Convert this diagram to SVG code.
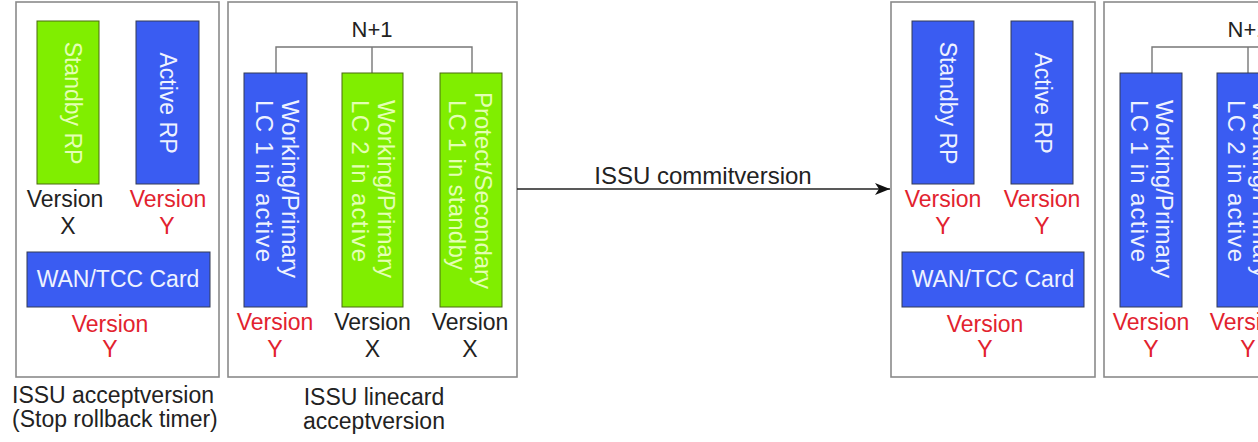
<svg xmlns="http://www.w3.org/2000/svg" width="1258" height="442" viewBox="0 0 1258 442">
<defs>
<style>
text{font-family:"Liberation Sans",Arial,sans-serif;}
.frame{fill:#fff;stroke:#8a8a8a;stroke-width:1.6;}
.blue{fill:#3a5cf2;stroke:#333a55;stroke-width:1;}
.green{fill:#80ee00;stroke:#4a6a10;stroke-width:1;}
.tb{fill:#eef2ff;font-size:23px;}
.tg{fill:#e4ffb4;font-size:23px;}
.lc{font-size:24px;}
.vr{fill:#e2222e;font-size:23px;text-anchor:middle;}
.vk{fill:#222;font-size:23px;text-anchor:middle;}
.np{fill:#222;font-size:22px;text-anchor:middle;}
.cap{fill:#222;font-size:23px;}
.brk{fill:none;stroke:#777;stroke-width:1.4;}
.conn{fill:none;stroke:#222;stroke-width:1.3;}
</style>
<marker id="ah" markerWidth="16" markerHeight="12" refX="15" refY="6" orient="auto" markerUnits="userSpaceOnUse">
<path d="M0,0 L15,6 L0,12 L4,6 Z" fill="#111"/>
</marker>
</defs>
<rect width="1258" height="442" fill="#fff"/>

<g id="stage1">
<rect class="frame" x="16" y="2" width="203" height="375"/>
<g id="s1-standby">
<rect class="green" x="37" y="21" width="62" height="163"/>
<text class="tg" text-anchor="middle" transform="translate(65,103) rotate(90)">Standby RP</text>
<text class="vk" x="65" y="207">Version</text>
<text class="vk" x="68" y="234">X</text>
</g>
<g id="s1-active">
<rect class="blue" x="136" y="21" width="63" height="163"/>
<text class="tb" text-anchor="middle" transform="translate(160,103) rotate(90)">Active RP</text>
<text class="vr" x="168" y="207">Version</text>
<text class="vr" x="167" y="234">Y</text>
</g>
<g id="s1-wan">
<rect class="blue" x="27" y="252" width="183" height="55"/>
<text class="tb" x="118" y="287" text-anchor="middle">WAN/TCC Card</text>
<text class="vr" x="110" y="332">Version</text>
<text class="vr" x="110" y="357">Y</text>
</g>
<text class="cap" x="12" y="403">ISSU acceptversion</text>
<text class="cap" x="12" y="427">(Stop rollback timer)</text>
</g>

<g id="stage2">
<rect class="frame" x="228" y="2" width="289" height="375"/>
<text class="np" x="372" y="37">N+1</text>
<path class="brk" d="M276,73 V47 H472 V73 M372,47 V73"/>
<g id="s2-lc1">
<rect class="blue" x="244" y="73" width="63" height="234"/>
<text class="tb lc" transform="translate(282,100) rotate(90)" textLength="178" lengthAdjust="spacing">Working/Primary</text>
<text class="tb lc" transform="translate(256,100) rotate(90)" textLength="162" lengthAdjust="spacing">LC 1 in active</text>
<text class="vr" x="275" y="330">Version</text>
<text class="vr" x="275" y="357">Y</text>
</g>
<g id="s2-lc2">
<rect class="green" x="342" y="73" width="61" height="234"/>
<text class="tg lc" transform="translate(378,100) rotate(90)" textLength="178" lengthAdjust="spacing">Working/Primary</text>
<text class="tg lc" transform="translate(352,100) rotate(90)" textLength="162" lengthAdjust="spacing">LC 2 in active</text>
<text class="vk" x="372.5" y="330">Version</text>
<text class="vk" x="372.5" y="357">X</text>
</g>
<g id="s2-protect">
<rect class="green" x="440" y="73" width="62" height="234"/>
<text class="tg lc" transform="translate(475,92) rotate(90)" textLength="197" lengthAdjust="spacing">Protect/Secondary</text>
<text class="tg lc" transform="translate(449,100) rotate(90)" textLength="170" lengthAdjust="spacing">LC 1 in standby</text>
<text class="vk" x="470" y="330">Version</text>
<text class="vk" x="470" y="357">X</text>
</g>
<text class="cap" x="374" y="405" text-anchor="middle">ISSU linecard</text>
<text class="cap" x="374" y="429" text-anchor="middle">acceptversion</text>
</g>

<g id="stage3">
<rect class="frame" x="891" y="2" width="204" height="375"/>
<g id="s3-standby">
<rect class="blue" x="912" y="21" width="62" height="163"/>
<text class="tb" text-anchor="middle" transform="translate(940,103) rotate(90)">Standby RP</text>
<text class="vr" x="943" y="207">Version</text>
<text class="vr" x="943" y="234">Y</text>
</g>
<g id="s3-active">
<rect class="blue" x="1011" y="21" width="62" height="163"/>
<text class="tb" text-anchor="middle" transform="translate(1035,103) rotate(90)">Active RP</text>
<text class="vr" x="1042" y="207">Version</text>
<text class="vr" x="1042" y="234">Y</text>
</g>
<g id="s3-wan">
<rect class="blue" x="902" y="252" width="182" height="55"/>
<text class="tb" x="993" y="287" text-anchor="middle">WAN/TCC Card</text>
<text class="vr" x="985" y="332">Version</text>
<text class="vr" x="985" y="357">Y</text>
</g>
</g>

<g id="stage4">
<rect class="frame" x="1104" y="2" width="289" height="375"/>
<text class="np" x="1248" y="37">N+1</text>
<path class="brk" d="M1152,73 V47 H1348 M1248,47 V73"/>
<g id="s4-lc1">
<rect class="blue" x="1120" y="73" width="62" height="234"/>
<text class="tb lc" transform="translate(1156,100) rotate(90)" textLength="178" lengthAdjust="spacing">Working/Primary</text>
<text class="tb lc" transform="translate(1131,100) rotate(90)" textLength="162" lengthAdjust="spacing">LC 1 in active</text>
<text class="vr" x="1151" y="330">Version</text>
<text class="vr" x="1151" y="357">Y</text>
</g>
<g id="s4-lc2">
<rect class="blue" x="1217" y="73" width="62" height="234"/>
<text class="tb lc" transform="translate(1253,100) rotate(90)" textLength="178" lengthAdjust="spacing">Working/Primary</text>
<text class="tb lc" transform="translate(1228,100) rotate(90)" textLength="162" lengthAdjust="spacing">LC 2 in active</text>
<text class="vr" x="1248" y="330">Version</text>
<text class="vr" x="1248" y="357">Y</text>
</g>
</g>

<g id="connectors">
<line class="conn" x1="517" y1="189" x2="890" y2="189" marker-end="url(#ah)"/>
<text class="cap" x="703" y="184" text-anchor="middle" style="font-size:24px">ISSU commitversion</text>
</g>
</svg>
